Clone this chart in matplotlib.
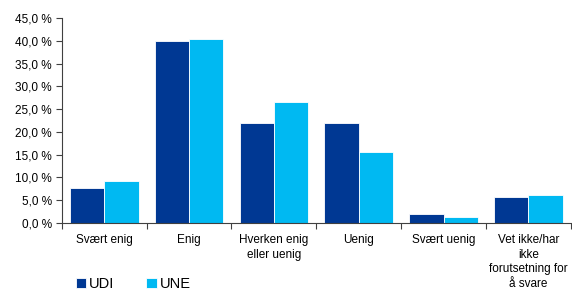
import matplotlib.pyplot as plt
import numpy as np
import matplotlib.ticker as ticker

plt.rcParams['font.family'] = ['Liberation Sans', 'DejaVu Sans']

categories = ['Svært enig', 'Enig', 'Hverken enig\neller uenig', 'Uenig',
              'Svært uenig', 'Vet ikke/har\nikke\nforutsetning for\nå svare']
udi = [7.7, 40.0, 22.0, 22.0, 1.9, 5.8]
une = [9.2, 40.5, 26.5, 15.5, 1.3, 6.2]

col_udi = '#003893'
col_une = '#00B9F2'

fig = plt.figure(figsize=(5.72, 2.91), dpi=100)
ax = fig.add_axes([0.108, 0.234, 0.89, 0.704])

x = np.arange(len(categories))
w = 0.405
ax.bar(x - w / 2, udi, width=w, color=col_udi, edgecolor='white', linewidth=0.6, label='UDI')
ax.bar(x + w / 2, une, width=w, color=col_une, edgecolor='white', linewidth=0.6, label='UNE')

ax.set_xlim(-0.5, len(categories) - 0.5)
ax.set_ylim(0, 45)
ax.yaxis.set_major_locator(ticker.MultipleLocator(5))
ax.yaxis.set_major_formatter(ticker.FuncFormatter(lambda v, _: f'{v:.1f} %'.replace('.', ',')))

ax.set_xticks(x)
ax.set_xticklabels(categories, fontsize=8.5, linespacing=1.3, va='top')
ax.set_xticks(np.arange(-0.5, len(categories)), minor=True)
ax.tick_params(axis='x', which='major', length=0, pad=8)
ax.tick_params(axis='x', which='minor', length=4, width=0.8, color='#404040')
ax.tick_params(axis='y', labelsize=8.5, length=4, width=0.8, color='#404040', pad=3)

for s in ['top', 'right']:
    ax.spines[s].set_visible(False)
for s in ['left', 'bottom']:
    ax.spines[s].set_color('#404040')
    ax.spines[s].set_linewidth(0.8)

fig.legend(loc='lower left', bbox_to_anchor=(0.125, -0.015), ncol=2, frameon=False,
           fontsize=10.5, handlelength=0.7, handleheight=0.7, handletextpad=0.2,
           columnspacing=2.2, borderaxespad=0.1, borderpad=0.2)

plt.savefig('out.png', dpi=100)
